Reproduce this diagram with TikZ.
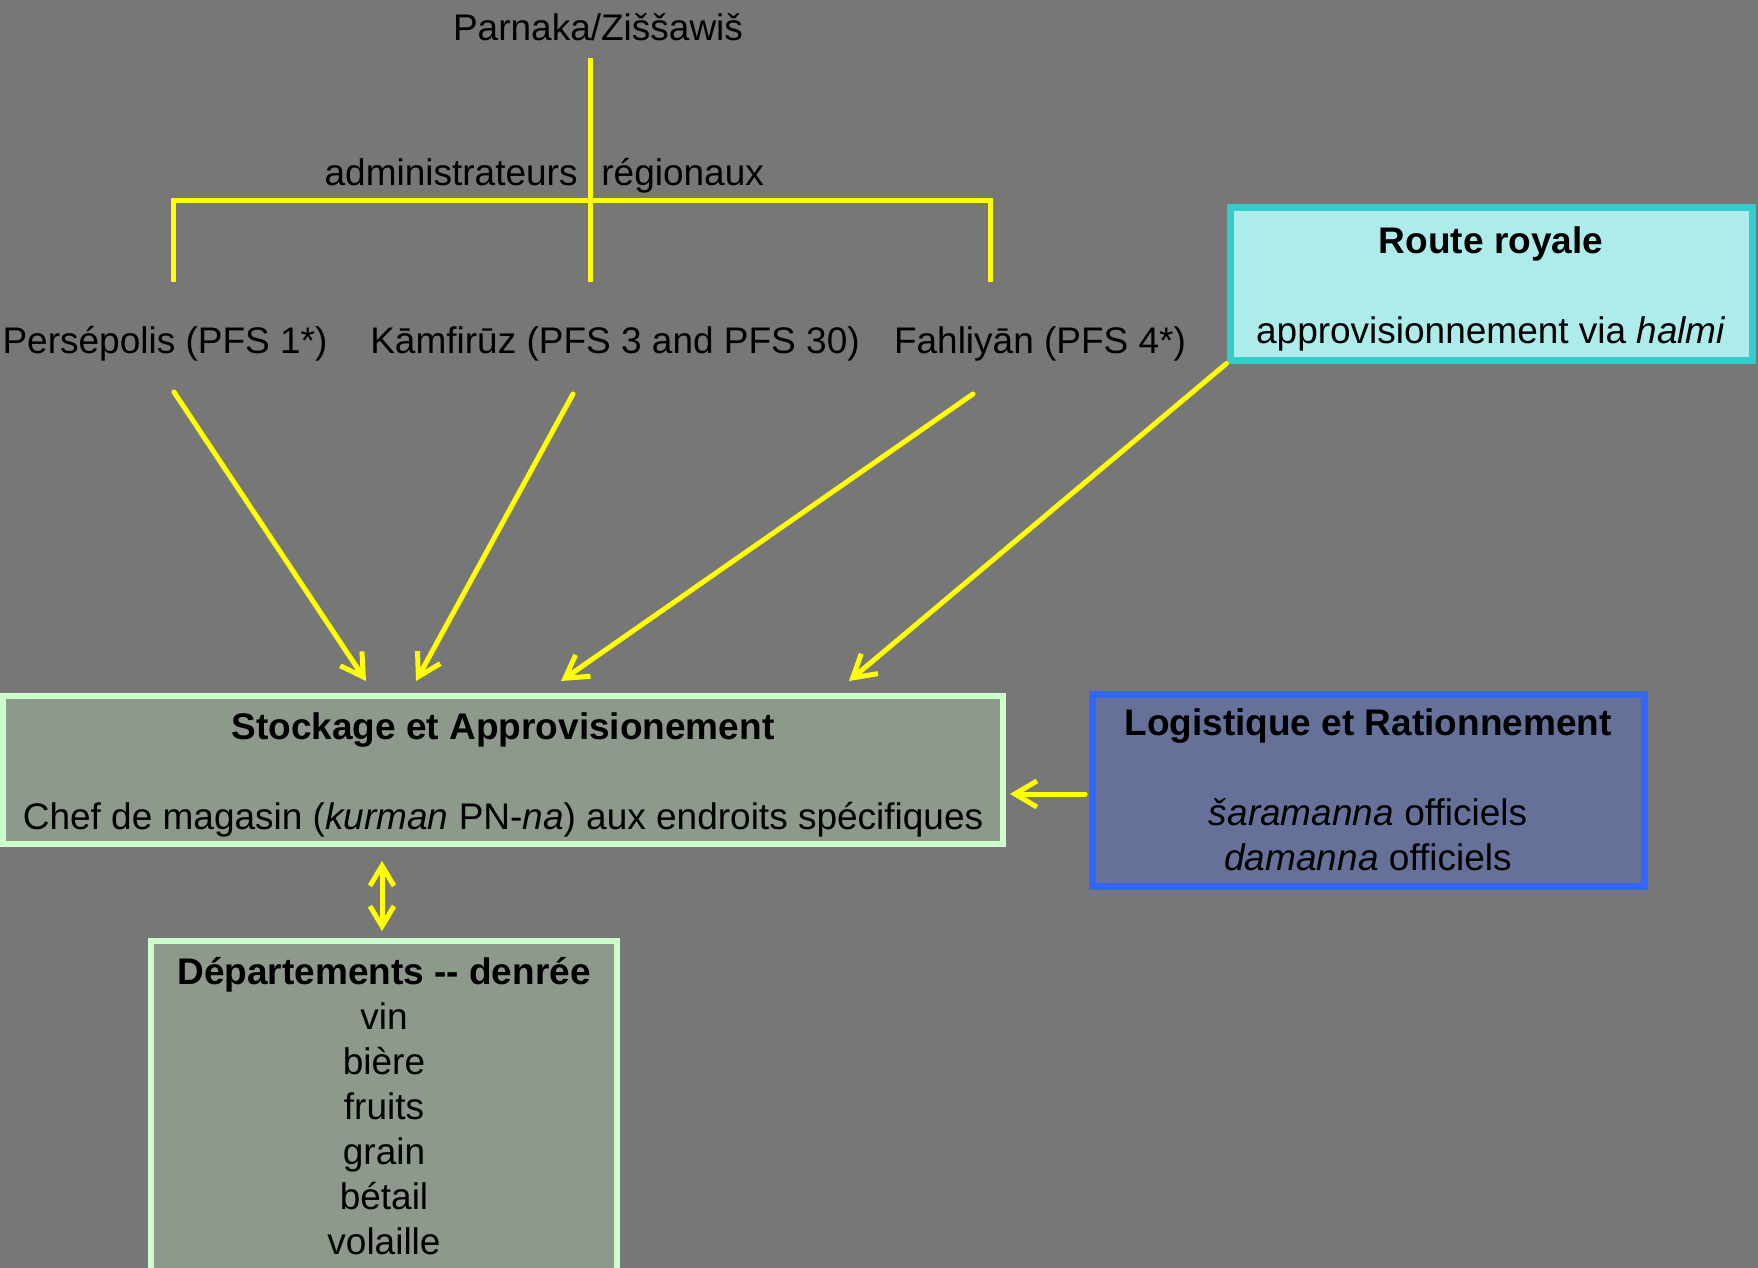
\documentclass[tikz,border=0pt]{standalone}
\usepackage{fontspec}
\setmainfont{Liberation Sans}
\usetikzlibrary{arrows.meta}
\definecolor{bg}{HTML}{777777}
\definecolor{yel}{HTML}{FFFF00}
\definecolor{stockfill}{HTML}{8C998B}
\definecolor{stockdraw}{HTML}{CCFFCC}
\definecolor{logifill}{HTML}{657199}
\definecolor{logidraw}{HTML}{3366FF}
\definecolor{routefill}{HTML}{AEEBEB}
\definecolor{routedraw}{HTML}{33CCCC}
\begin{document}
\begin{tikzpicture}[x=0.5pt,y=-0.5pt,
  txt/.style={font=\fontsize{18.5}{22.5}\selectfont, inner sep=0pt, text=black},
  box/.style={txt, align=center, rectangle},
  tree/.style={draw=yel, line width=2.5pt},
  arr/.style={draw=yel, line width=2.5pt, line cap=round, -{Straight Barb[length=11pt,width=13pt]}},
  dbl/.style={draw=yel, line width=2.5pt, line cap=round, {Straight Barb[length=10pt,width=12pt]}-{Straight Barb[length=10pt,width=12pt]}}
]
\fill[bg] (0,0) rectangle (1758,1268);
\useasboundingbox (0,0) rectangle (1758,1268);
\clip (0,0) rectangle (1758,1268);

% tree
\node[txt, anchor=base] (parn) at (598,41) {Parnaka/Ziššawiš};
\node[txt, anchor=base east] (adm1) at (578,185) {administrateurs};
\node[txt, anchor=base west] (adm2) at (601,185) {régionaux};
\coordinate (t0) at (590,58);
\coordinate (t1) at (590,282);
\coordinate (hl) at (173,201);
\coordinate (hr) at (990,201);
\coordinate (hlb) at (173,282);
\coordinate (hrb) at (990,282);
\draw[tree] (hlb) -- (hl) -- (hr) -- (hrb);
\draw[tree] (t0) -- (t1);

\node[txt, anchor=base] (pers) at (165,353) {Persépolis (PFS 1*)};
\node[txt, anchor=base] (kamf) at (615,353) {Kāmfirūz (PFS 3 and PFS 30)};
\node[txt, anchor=base] (fahl) at (1040,353) {Fahliyān (PFS 4*)};

% boxes
\node[box, fill=routefill, draw=routedraw, line width=3.5pt,
      minimum width=261pt, minimum height=76pt] (route) at (1491,284)
  {\rule{0pt}{18.5pt}\textbf{Route royale}\\[22.5pt]approvisionnement via \textit{halmi}};
\node[box, fill=stockfill, draw=stockdraw, line width=3pt,
      minimum width=500pt, minimum height=74pt] (stock) at (503,770)
  {\rule{0pt}{18.5pt}\textbf{Stockage et Approvisionement}\\[22.5pt]Chef de magasin (\textit{kurman} PN-\textit{na}) aux endroits spécifiques};
\node[box, fill=logifill, draw=logidraw, line width=3.5pt,
      minimum width=276pt, minimum height=96pt] (logi) at (1368,790)
  {\textbf{Logistique et Rationnement}\\[22.5pt]\textit{šaramanna} officiels\\\textit{damanna} officiels};
\node[box, fill=stockfill, draw=stockdraw, line width=3pt,
      minimum width=233pt, minimum height=165pt] (dept) at (384,1106)
  {\textbf{Départements {-}{-} denrée}\\vin\\bière\\fruits\\grain\\bétail\\volaille};

% arrows
\coordinate (a1s) at (174,392);
\coordinate (a1e) at (366,681);
\coordinate (a2s) at (573,394);
\coordinate (a2e) at (416,681);
\coordinate (a3s) at (973,394);
\coordinate (a3e) at (561,681);
\coordinate (a4e) at (849,681);
\coordinate (l1) at (1085,794);
\coordinate (l2) at (1010,794);
\coordinate (d1) at (382,861);
\coordinate (d2) at (382,931);
\draw[arr] (a1s) -- (a1e);
\draw[arr] (a2s) -- (a2e);
\draw[arr] (a3s) -- (a3e);
\draw[arr] (route.south west) -- (a4e);
\draw[arr] (l1) -- (l2);
\draw[dbl] (d1) -- (d2);
\end{tikzpicture}
\end{document}
